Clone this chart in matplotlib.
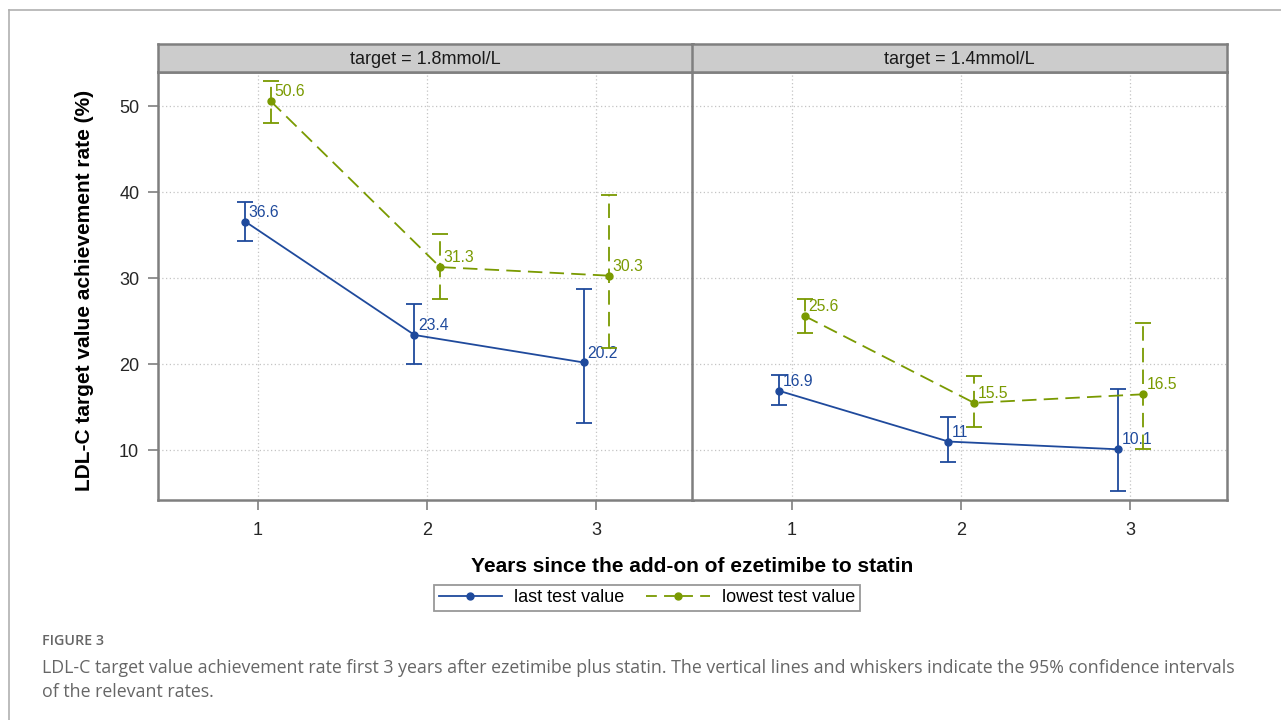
import matplotlib.pyplot as plt
from matplotlib.lines import Line2D

plt.rcParams['font.family'] = ['Liberation Sans', 'DejaVu Sans']

years = [1, 2, 3]
panel_titles = ["target = 1.8mmol/L", "target = 1.4mmol/L"]

# last test value: rate and 95% CI per panel
last_rate = [[36.6, 23.4, 20.2], [16.9, 11, 10.1]]
last_low = [[34.3, 20.0, 13.2], [15.2, 8.6, 5.2]]
last_high = [[38.9, 27.0, 28.8], [18.7, 13.9, 17.1]]

# lowest test value
lowest_rate = [[50.6, 31.3, 30.3], [25.6, 15.5, 16.5]]
lowest_low = [[48.1, 27.6, 21.9], [23.6, 12.7, 10.1]]
lowest_high = [[52.9, 35.2, 39.7], [27.6, 18.6, 24.8]]

BLUE = "#1f4a9c"
GREEN = "#7a9a01"
FRAME = "#7f7f7f"

fig = plt.figure(figsize=(12.81, 7.2), dpi=100)

# page border lines
fig.add_artist(Line2D([9 / 1281, 1.0], [1 - 10 / 720] * 2, color="#b0b0b0", lw=1.2))
fig.add_artist(Line2D([9 / 1281] * 2, [0, 1 - 10 / 720], color="#b0b0b0", lw=1.2))

lefts = [158 / 1281, 692 / 1281]
width = 535 / 1281
bottom = 1 - 500 / 720
height = 428 / 720


def draw_series(ax, xs, ys, lo, hi, color, dashed):
    yerr = [[y - l for y, l in zip(ys, lo)], [h - y for y, h in zip(ys, hi)]]
    eb = ax.errorbar(xs, ys, yerr=yerr, color=color, lw=1.3, marker="o", ms=5,
                     capsize=6, capthick=1.3, zorder=3)
    if dashed:
        eb[0].set_dashes((8, 4))
        for bar in eb[2]:
            bar.set_linestyle((0, (8, 4)))
    for x, y in zip(xs, ys):
        ax.annotate(f"{y:g}", (x, y), xytext=(2.5, 3.5), textcoords="offset points",
                    ha="left", va="baseline", color=color, fontsize=11.3)


for i in range(2):
    ax = fig.add_axes([lefts[i], bottom, width, height])
    ax.set_xlim(0.41, 3.57)
    ax.set_ylim(4.2, 54)
    ax.set_xticks(years)
    ax.set_yticks([10, 20, 30, 40, 50])
    ax.grid(True, linestyle=(0, (1, 2)), color="#c4c4c4", lw=0.9)
    ax.set_axisbelow(True)
    for sp in ax.spines.values():
        sp.set_color(FRAME)
        sp.set_linewidth(1.8)
    ax.tick_params(colors=FRAME, labelcolor="#262626", labelsize=13,
                   length=7.5, width=1.2)
    ax.tick_params(axis="x", pad=8)
    ax.tick_params(axis="y", pad=6)
    if i == 0:
        ax.set_ylabel("LDL-C target value achievement rate (%)", fontsize=15,
                      fontweight="bold")
        ax.yaxis.set_label_coords(-0.12, 0.49)
    else:
        ax.tick_params(axis="y", left=False, labelleft=False)

    xb = [x - 0.075 for x in years]
    xg = [x + 0.076 for x in years]
    draw_series(ax, xb, last_rate[i], last_low[i], last_high[i], BLUE, False)
    draw_series(ax, xg, lowest_rate[i], lowest_low[i], lowest_high[i], GREEN, True)

    # facet strip
    sx = fig.add_axes([lefts[i], 1 - 72 / 720, width, 28 / 720])
    sx.set_facecolor("#cccccc")
    sx.set_xticks([])
    sx.set_yticks([])
    for sp in sx.spines.values():
        sp.set_color(FRAME)
        sp.set_linewidth(1.8)
    sx.text(0.5, 0.45, panel_titles[i], ha="center", va="center",
            fontsize=13, color="#1a1a1a", transform=sx.transAxes)

fig.text(692 / 1281, 1 - 567 / 720, "Years since the add-on of ezetimibe to statin",
         ha="center", va="center", fontsize=15, fontweight="bold")

handles = [
    Line2D([], [], color=BLUE, lw=1.3, marker="o", ms=5),
    Line2D([], [], color=GREEN, lw=1.3, marker="o", ms=5, dashes=(6, 4)),
]
leg = fig.legend(handles, ["last test value", "lowest test value"], ncol=2,
                 loc="center", bbox_to_anchor=(647 / 1281, 1 - 598 / 720),
                 fontsize=13, frameon=True, fancybox=False, handlelength=3.5,
                 handletextpad=0.7, columnspacing=1.2, borderpad=0.25)
leg.get_frame().set_edgecolor(FRAME)
leg.get_frame().set_linewidth(1.3)

cap_font = ["Open Sans", "DejaVu Sans"]
fig.text(42 / 1281, 1 - 641 / 720, "FIGURE 3", ha="left", va="center",
         fontsize=10.3, color="#666666", family=cap_font, fontweight="semibold")
fig.text(42 / 1281, 1 - 668 / 720,
         "LDL-C target value achievement rate first 3 years after ezetimibe plus statin. "
         "The vertical lines and whiskers indicate the 95% confidence intervals",
         ha="left", va="center", fontsize=12.8, color="#666666", family=cap_font)
fig.text(42 / 1281, 1 - 692 / 720, "of the relevant rates.", ha="left", va="center",
         fontsize=12.8, color="#666666", family=cap_font)

fig.savefig("out.png", dpi=100, facecolor="white")
